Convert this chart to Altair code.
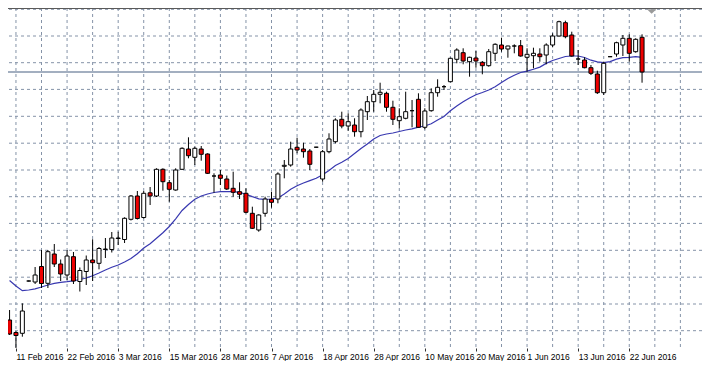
import altair as alt
import pandas as pd

# ---- data (price units; 1 unit ~ 1 px) ----
opens = [40, 27.5, 26.7, 79, 78, 93.5, 76.7, 106, 96, 85,
         103.3, 78.5, 88.5, 100, 96.7, 110.5, 110.5, 121.5, 120.5, 140.7,
         164, 142.5, 167.2, 164, 190.7, 177.3, 170, 190.7, 211, 202.7,
         211, 206, 184, 185, 181, 171.7, 168.3, 166.7, 146.7, 130,
         146.7, 160.7, 161, 193.7, 195, 212.7, 211, 209, 212.8, 181,
         208.3, 218.3, 240.7, 234, 235, 228.3, 248.3, 258.3, 265.7, 266.7,
         252.7, 239.3, 241.7, 249.3, 260.7, 232.7, 249.3, 267.3, 273.3, 278.3,
         300.7, 307.3, 298.3, 302, 297.7, 294.3, 306.7, 315, 311, 314,
         314.3, 302.7, 304.3, 306, 305, 315, 324, 337.3, 325, 301,
         300, 292.3, 286, 267.3, 303.3, 306, 315, 321.7, 308.3, 322.7]
closes = [26, 24.5, 49, 79, 85, 76.5, 108.3, 96, 86, 104,
          79, 89.5, 100, 97.3, 111.5, 111, 122, 122, 141.7, 164,
          141.5, 166.7, 164, 190.7, 178.3, 170.7, 190, 211.7, 204.3, 211.7,
          205.7, 186.7, 184, 181.7, 171, 167.7, 165.7, 147.7, 131.7, 145,
          161, 157.7, 186, 194.7, 211, 210, 208.3, 195.7, 212.8, 208.3,
          221, 240, 234, 238.3, 228.3, 250, 258.3, 265.7, 267.7, 252.7,
          240.7, 243.3, 248.3, 249.3, 232.7, 249, 267.3, 272.7, 273.3, 301.7,
          310, 299, 302.7, 299, 294.3, 308.3, 315.7, 311, 314, 314,
          304, 305.7, 306.7, 303.3, 315, 324, 338.3, 323.3, 304, 301,
          292.3, 286.7, 267.3, 296.7, 303.3, 317.3, 321.7, 306.7, 320.7, 288]
highs = [50, 29, 56.7, 79.5, 93, 110, 110, 116, 100.5, 110,
         108, 92.5, 104.5, 120.7, 113, 122, 128, 128.3, 142.7, 165,
         169, 169, 173, 191.7, 191.7, 180, 191.7, 212.7, 222.7, 213.3,
         214, 206.7, 186.7, 190, 184.5, 188.3, 177.7, 171.7, 153.3, 145.7,
         163.3, 168.3, 187.7, 200, 218.3, 222.3, 217.3, 211, 213.1, 210,
         226.7, 241.7, 248.3, 246.7, 241.7, 251.7, 264, 270, 277.3, 268.3,
         259.3, 251.7, 268.3, 260, 266.7, 251.7, 271.7, 280.7, 275, 302.3,
         311.7, 311.7, 303.3, 309, 299, 311, 316.7, 322.3, 314.3, 315.7,
         320, 311.7, 312.3, 311.7, 316.7, 326.7, 339.3, 339.3, 328.3, 310,
         302.7, 295, 289.3, 298.3, 303.5, 318.3, 325, 325.7, 321.7, 325.7]
lows = [25, 11, 23.3, 78.5, 76, 72, 72, 93, 79, 80,
        76, 68.5, 75, 79, 90.7, 102, 107.5, 115, 117, 139.5,
        140.5, 141.5, 155, 163, 169.3, 158.3, 169.3, 190, 201.7, 195,
        199.3, 186, 167.3, 175, 170, 163.3, 161, 146.7, 131, 128.3,
        143.3, 152.3, 156.7, 181.7, 193.3, 206.7, 202.3, 190, 212.5, 178.3,
        206.7, 216.7, 231.7, 229.3, 223.3, 222.7, 240, 248.3, 256.7, 248.3,
        235, 231.7, 240.7, 232.7, 232.3, 230.7, 248.3, 263.3, 270, 277.7,
        296.7, 295.7, 283.3, 292.3, 285.7, 293.3, 299, 308.3, 302.3, 306.7,
        303.3, 288.3, 291.7, 298.3, 295.7, 312.7, 323.3, 321.7, 303.3, 295,
        291.7, 285, 266, 265, 303.1, 303.3, 304, 298.3, 307.3, 277.3]
ma_values = [79.5, 74, 69.3, 70, 71.2, 73, 75, 76.7, 77.7, 78.3,
             79.2, 80.5, 82, 84.2, 87, 90, 92.8, 95, 98, 101.5,
             106.3, 112, 116.2, 121.7, 127.3, 133.5, 141.2, 149.5, 155.5, 160.7,
             164, 166, 167.5, 168.4, 168.3, 168.3, 167.7, 165.8, 163.4, 161.2,
             160.7, 161, 162.1, 166, 170.7, 174.3, 177, 179.4, 181.7, 185.2,
             189.5, 194.5, 197.7, 201.5, 206.5, 211.5, 216, 221, 224.5, 226,
             227, 228.5, 230, 231.2, 232.8, 234, 236.3, 240, 243.5, 249.2,
             254, 258.2, 262, 265.2, 267.5, 270, 273.3, 277.5, 281.5, 284.8,
             287.5, 288.9, 290.7, 292.9, 296.6, 299.5, 301.5, 303.5, 304, 304,
             302.5, 299.8, 298.2, 297.4, 298.4, 300.8, 302.3, 302.7, 303.3, 302.7]

tick_idx = [1, 9, 17, 25, 33, 41, 49, 57, 65, 73, 81, 89, 97]
tick_labels = ["11 Feb 2016", "22 Feb 2016", "3 Mar 2016", "15 Mar 2016",
               "28 Mar 2016", "7 Apr 2016", "18 Apr 2016", "28 Apr 2016",
               "10 May 2016", "20 May 2016", "1 Jun 2016", "13 Jun 2016",
               "22 Jun 2016"]
vgrid_idx = [1, 5, 9, 13, 17, 21, 25, 29, 33, 37, 41, 45, 49, 53, 57, 61, 65,
             69, 73, 77, 81, 85, 89, 93, 97, 101, 105]
hgrid_prices = [350.7, 324, 297.3, 270.6, 243.7, 216.8, 190, 163.3, 136.6,
                109.7, 82.8, 56, 29.3, 2.7]
last_price = [288]
shift_marker = {"idx": [100.5], "p": [348.5]}
frame_top = [352]

# ---- styling ----
GRID = "#8593a8"
RED = "#ee0000"

df = pd.DataFrame({"idx": list(range(len(opens))), "open": opens, "high": highs,
                   "low": lows, "close": closes, "ma": ma_values})

x_scale = alt.Scale(domain=[0.537, 107.6], nice=False, zero=False)
y_scale = alt.Scale(domain=[12, 352], nice=False, zero=False)

label_expr = "[" + ",".join("'%s'" % s for s in tick_labels) + "][round((datum.value-1)/8)]"
x_axis = alt.Axis(values=tick_idx, labelExpr=label_expr, title=None, grid=False,
                  domain=False, ticks=True, tickSize=3, tickColor="#333333",
                  labelAlign="left", labelBaseline="top", labelPadding=1,
                  labelFont="Liberation Sans", labelFontSize=8.5, labelColor="#000000",
                  labelOverlap=False, labelFlush=False, labelBound=False)

X = alt.X("idx:Q", scale=x_scale, axis=x_axis)

vgrid = alt.Chart(pd.DataFrame({"idx": vgrid_idx})).mark_rule(
    color=GRID, strokeDash=[3, 3], strokeWidth=1, clip=True
).encode(x=X)

hgrid = alt.Chart(pd.DataFrame({"p": hgrid_prices})).mark_rule(
    color=GRID, strokeDash=[3, 3], strokeWidth=1, clip=True
).encode(y=alt.Y("p:Q", scale=y_scale, axis=None))

price_line = alt.Chart(pd.DataFrame({"p": last_price})).mark_rule(
    color="#8494ab", strokeWidth=1.3, clip=True
).encode(y=alt.Y("p:Q", scale=y_scale, axis=None))

top_line = alt.Chart(pd.DataFrame({"p": frame_top})).mark_rule(
    color="#5a5a5a", strokeWidth=2, clip=True
).encode(y=alt.Y("p:Q", scale=y_scale, axis=None))

ma_line = alt.Chart(df).mark_line(color="#3838b0", strokeWidth=1.2, clip=True).encode(
    x=X, y=alt.Y("ma:Q", scale=y_scale, axis=None))

wicks = alt.Chart(df).mark_rule(color="#000000", strokeWidth=1, clip=True).encode(
    x=X, y=alt.Y("low:Q", scale=y_scale, axis=None), y2="high:Q")

bodies = alt.Chart(df).mark_bar(size=4, stroke="#000000", strokeWidth=1, clip=True).encode(
    x=X, y=alt.Y("open:Q", scale=y_scale, axis=None), y2="close:Q",
    fill=alt.condition("datum.close >= datum.open", alt.value("#ffffff"), alt.value(RED)))

marker = alt.Chart(pd.DataFrame(shift_marker)).mark_point(
    shape="M -1 -0.5 L 1 -0.5 L 0 0.5 Z", filled=True, color="#9a9a9a",
    size=90, opacity=1, clip=True
).encode(x=X, y=alt.Y("p:Q", scale=y_scale, axis=None))

chart = alt.layer(vgrid, hgrid, price_line, top_line, ma_line, wicks, bodies, marker).properties(
    width=694, height=340, padding=0, background="#ffffff"
).configure_view(stroke=None)

chart.save("out.html", embed_options={"renderer": "svg", "actions": False})
